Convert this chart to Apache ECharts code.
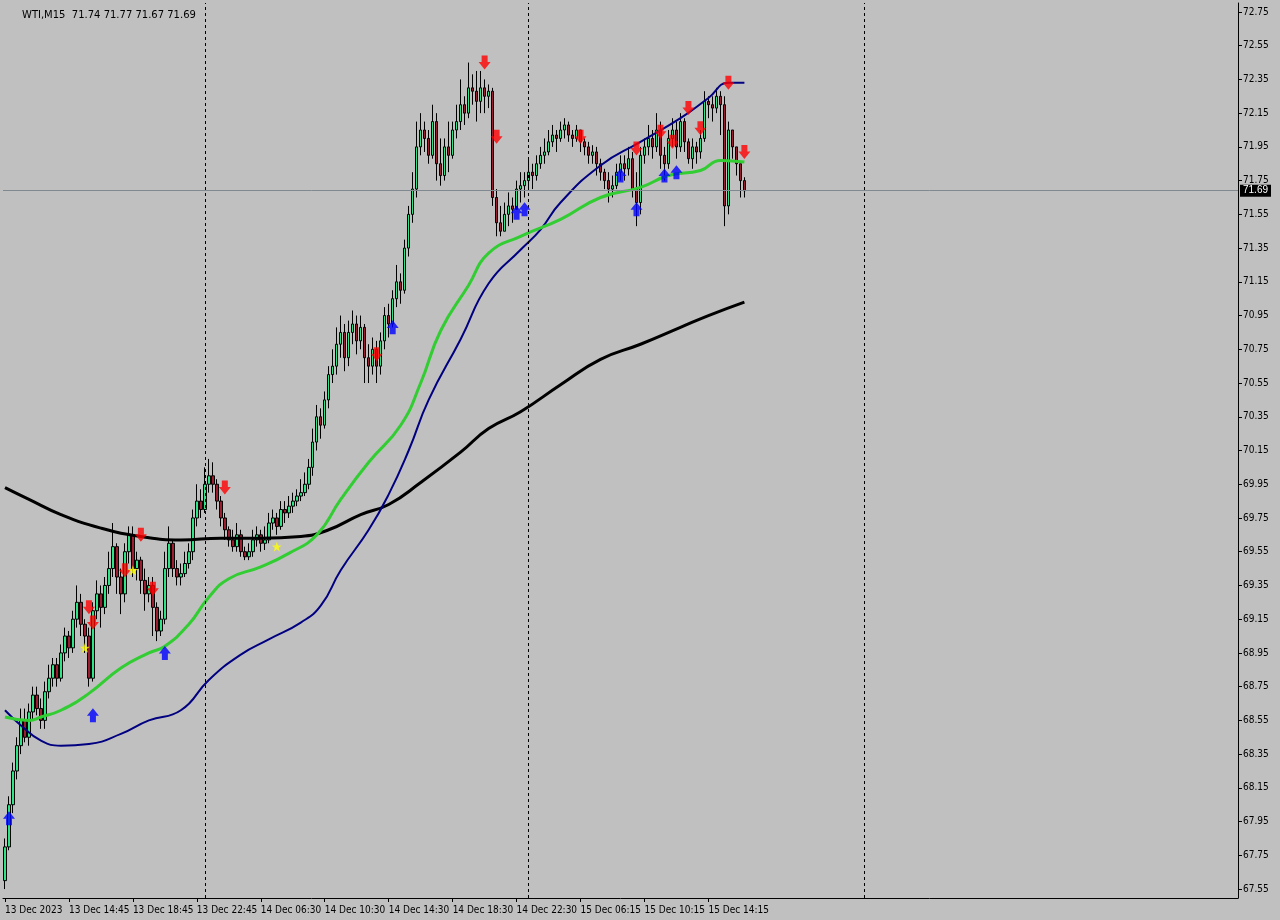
<!DOCTYPE html>
<html>
<head>
<meta charset="utf-8">
<script src="https://cdn.jsdelivr.net/npm/echarts@6/dist/echarts.min.js"></script>
<style>html,body{margin:0;padding:0;background:#c0c0c0}#main{width:1280px;height:920px}</style>
</head>
<body>
<div id="main"></div>
<script>
// WTI M15 candles (open = previous close)
var firstOpen = 67.60;
var closes = [
67.80,68.05,68.25,68.40,68.55,68.45,68.60,68.70,68.62,68.55,
68.72,68.80,68.88,68.80,68.95,69.05,68.98,69.15,69.25,69.12,
69.05,68.80,69.20,69.30,69.22,69.35,69.45,69.58,69.40,69.30,
69.55,69.65,69.45,69.50,69.38,69.30,69.35,69.22,69.08,69.15,
69.45,69.60,69.45,69.40,69.42,69.48,69.55,69.75,69.85,69.80,
69.95,70.00,69.95,69.85,69.75,69.68,69.62,69.58,69.65,69.55,
69.52,69.55,69.62,69.65,69.60,69.62,69.72,69.75,69.70,69.80,
69.78,69.82,69.85,69.88,69.90,69.95,70.05,70.20,70.35,70.30,
70.45,70.60,70.65,70.78,70.85,70.70,70.85,70.90,70.80,70.88,
70.70,70.65,70.75,70.65,70.80,70.95,70.90,71.05,71.15,71.10,
71.35,71.55,71.70,71.95,72.05,72.00,71.90,72.10,71.85,71.78,
71.95,71.90,72.05,72.10,72.20,72.15,72.30,72.28,72.22,72.30,
72.25,72.28,71.65,71.50,71.45,71.55,71.60,71.58,71.70,71.72,
71.75,71.80,71.78,71.85,71.90,71.92,71.98,72.02,72.00,72.05,
72.08,72.02,72.00,72.05,71.98,71.95,71.90,71.92,71.85,71.80,
71.75,71.70,71.72,71.80,71.85,71.82,71.88,71.70,71.62,71.90,
71.95,72.00,71.95,72.05,71.90,71.85,72.00,72.05,71.95,72.10,
71.98,71.88,71.95,71.92,72.00,72.22,72.20,72.18,72.25,72.20,
71.60,72.05,71.95,71.85,71.75,71.69
];
var lows = [
67.55,67.78,68.00,68.20,68.35,68.42,68.40,68.55,68.58,68.50,
68.50,68.68,68.75,68.75,68.78,68.90,68.92,68.95,69.10,69.05,
68.95,68.75,68.78,69.15,69.10,69.18,69.30,69.40,69.30,69.18,
69.25,69.48,69.40,69.38,69.30,69.20,69.25,69.05,69.02,69.05,
69.12,69.40,69.40,69.35,69.35,69.40,69.45,69.50,69.70,69.75,
69.78,69.90,69.90,69.80,69.70,69.62,69.58,69.55,69.55,69.52,
69.50,69.50,69.52,69.58,69.55,69.56,69.60,69.68,69.65,69.68,
69.72,69.75,69.78,69.82,69.85,69.88,69.92,70.00,70.15,70.22,
70.28,70.40,70.55,70.60,70.70,70.62,70.65,70.78,70.72,70.75,
70.55,70.55,70.60,70.55,70.60,70.75,70.82,70.88,71.00,71.02,
71.08,71.30,71.50,71.65,71.90,71.92,71.85,71.88,71.75,71.72,
71.75,71.80,71.88,72.00,72.05,72.08,72.12,72.20,72.10,72.15,
72.15,72.18,71.60,71.42,71.42,71.45,71.48,71.50,71.60,71.62,
71.65,71.70,71.70,71.75,71.82,71.85,71.90,71.95,71.92,71.98,
72.00,71.98,71.95,71.98,71.92,71.90,71.85,71.85,71.78,71.75,
71.70,71.62,71.65,71.70,71.75,71.75,71.78,71.65,71.48,71.55,
71.85,71.90,71.88,71.92,71.82,71.75,71.82,71.95,71.88,71.92,
71.92,71.85,71.82,71.85,71.88,71.98,72.12,72.10,72.15,72.02,
71.48,71.55,71.88,71.78,71.65,71.65
];
var highs = [
67.85,68.10,68.30,68.45,68.62,68.62,68.65,68.75,68.75,68.68,
68.78,68.88,68.92,68.92,69.00,69.10,69.08,69.20,69.35,69.30,
69.15,69.10,69.25,69.38,69.35,69.40,69.55,69.72,69.60,69.45,
69.60,69.70,69.70,69.55,69.52,69.45,69.40,69.40,69.25,69.20,
69.55,69.70,69.62,69.50,69.48,69.55,69.60,69.80,69.95,69.92,
70.05,70.10,70.08,69.98,69.88,69.78,69.70,69.68,69.72,69.68,
69.58,69.60,69.68,69.70,69.68,69.70,69.78,69.80,69.78,69.85,
69.85,69.88,69.90,69.92,69.98,70.02,70.10,70.28,70.42,70.40,
70.50,70.65,70.75,70.88,70.95,70.90,70.92,70.98,70.95,70.95,
70.90,70.78,70.82,70.80,70.85,71.00,71.02,71.10,71.25,71.20,
71.40,71.60,71.80,72.10,72.15,72.10,72.05,72.20,72.15,72.00,
72.00,72.10,72.10,72.20,72.35,72.25,72.45,72.38,72.40,72.40,
72.35,72.32,72.30,71.70,71.60,71.62,71.68,71.65,71.75,71.80,
71.80,71.88,71.85,71.90,71.95,72.00,72.05,72.08,72.05,72.10,
72.12,72.10,72.05,72.08,72.05,72.00,71.98,71.96,71.95,71.88,
71.82,71.80,71.78,71.85,71.90,71.90,71.95,71.92,71.80,71.95,
72.00,72.08,72.05,72.15,72.10,71.95,72.05,72.12,72.10,72.15,
72.12,72.00,72.00,71.98,72.05,72.28,72.25,72.25,72.30,72.28,
72.25,72.10,72.05,71.95,71.85,71.77
];

// moving averages read at sample bars: [bar, price]
var maGreen = [[0,68.57],[6,68.55],[9,68.57],[14,68.61],[21,68.71],[29,68.86],[36,68.95],[40,68.99],[46,69.12],[51,69.28],[56,69.39],[64,69.46],[71,69.54],[78,69.65],[84,69.86],[91,70.08],[99,70.30],[104,70.55],[109,70.86],[116,71.13],[121,71.32],[129,71.42],[139,71.52],[149,71.65],[159,71.71],[166,71.78],[174,71.81],[179,71.87],[185,71.86]];
var maNavy = [[0,68.61],[4,68.52],[9,68.43],[14,68.40],[21,68.41],[29,68.47],[36,68.55],[44,68.61],[51,68.79],[59,68.94],[66,69.03],[74,69.13],[79,69.23],[84,69.44],[91,69.68],[96,69.89],[101,70.15],[106,70.45],[114,70.81],[121,71.14],[129,71.34],[134,71.46],[139,71.62],[149,71.84],[159,71.98],[169,72.12],[176,72.24],[181,72.33],[185,72.33]];
var maBlack = [[0,69.93],[6,69.86],[14,69.77],[24,69.69],[34,69.64],[44,69.62],[54,69.63],[64,69.63],[74,69.64],[81,69.68],[89,69.77],[96,69.83],[104,69.96],[114,70.14],[121,70.28],[129,70.38],[139,70.54],[149,70.69],[159,70.78],[169,70.88],[176,70.95],[185,71.03]];

// signal arrows [bar, price]
var sellArrows = [[21,69.22],[22,69.13],[30,69.44],[34,69.65],[37,69.33],[55,69.93],[93,70.72],[120,72.45],[123,72.01],[144,72.01],[158,71.94],[164,72.04],[167,71.98],[171,72.18],[174,72.06],[181,72.33],[185,71.92]];
var buyArrows = [[1,67.97],[22,68.58],[40,68.95],[97,70.88],[128,71.56],[130,71.58],[154,71.78],[158,71.58],[165,71.78],[168,71.80]];
var stars = [[20,68.98],[32,69.44],[68,69.58]];

var timeLabels = ['13 Dec 2023','13 Dec 14:45','13 Dec 18:45','13 Dec 22:45','14 Dec 06:30','14 Dec 10:30','14 Dec 14:30','14 Dec 18:30','14 Dec 22:30','15 Dec 06:15','15 Dec 10:15','15 Dec 14:15'];
var priceTicks = [67.55,67.75,67.95,68.15,68.35,68.55,68.75,68.95,69.15,69.35,69.55,69.75,69.95,70.15,70.35,70.55,70.75,70.95,71.15,71.35,71.55,71.75,71.95,72.15,72.35,72.55,72.75];
var totalBars = 309;
var daySeps = [49.5, 130.5, 214.5];
var lastPrice = 71.69;

var cats = [];
for (var i = 0; i < totalBars; i++) cats.push(i);
var ohlc = closes.map(function (c, i) {
  var o = i === 0 ? firstOpen : closes[i - 1];
  return [o, c, lows[i], highs[i]];
});

var arrowDown = 'path://M3,0 L9,0 L9,6 L12,6 L6,13 L0,6 L3,6 Z';
var arrowUp = 'path://M6,0 L12,7 L9,7 L9,13 L3,13 L3,7 L0,7 Z';

var chartDom = document.getElementById('main');
var myChart = echarts.init(chartDom);
var option = {
  backgroundColor: '#c0c0c0',
  animation: false,
  title: {
    text: 'WTI,M15  71.74 71.77 71.67 71.69',
    left: 17, top: 5,
    textStyle: { fontSize: 10, fontWeight: 'normal', color: '#000', fontFamily: 'DejaVu Sans' }
  },
  grid: { left: 3, right: 42, top: 3, bottom: 22 },
  xAxis: {
    type: 'category', data: cats, boundaryGap: true,
    axisLine: { lineStyle: { color: '#000' } },
    axisTick: { show: true, length: 4, alignWithLabel: true, lineStyle: { color: '#000' },
      interval: function (idx) { return idx % 16 === 0 && idx / 16 < timeLabels.length; } },
    axisLabel: {
      interval: 0, color: '#000', fontSize: 10, fontFamily: 'DejaVu Sans Condensed', align: 'left', margin: 7,
      formatter: function (v) { v = +v; return (v % 16 === 0 && v / 16 < timeLabels.length) ? timeLabels[v / 16] : ''; }
    },
    splitLine: { show: false }
  },
  yAxis: {
    type: 'value', position: 'right', min: 67.497, max: 72.803,
    axisLine: { show: true, lineStyle: { color: '#000' } },
    axisTick: { show: true, customValues: priceTicks, length: 4, lineStyle: { color: '#000' } },
    axisLabel: { customValues: priceTicks, color: '#000', fontSize: 10, fontFamily: 'DejaVu Sans Condensed', margin: 5,
      formatter: function (v) { return v.toFixed(2); } },
    splitLine: { show: false }
  },
  series: [
    {
      type: 'candlestick', data: ohlc, barWidth: 3,
      itemStyle: { color: '#2ee586', color0: '#9c1d30', borderColor: '#000', borderColor0: '#000', borderWidth: 1 },
      markLine: {
        silent: true, symbol: 'none',
        data: [
          { yAxis: lastPrice, lineStyle: { color: '#808890', type: 'solid', width: 1 },
            label: { show: true, position: 'end', formatter: '71.69', color: '#fff', backgroundColor: '#000', padding: [1, 3], fontSize: 10, distance: 2 } }
        ].concat(daySeps.map(function (d) {
          return { xAxis: d, lineStyle: { color: '#000', type: [3, 3], width: 1 }, label: { show: false } };
        }))
      }
    },
    { type: 'line', data: maBlack, smooth: true, showSymbol: false, lineStyle: { color: '#000', width: 3 }, z: 3 },
    { type: 'line', data: maNavy, smooth: true, showSymbol: false, lineStyle: { color: '#000080', width: 2 }, z: 3 },
    { type: 'line', data: maGreen, smooth: true, showSymbol: false, lineStyle: { color: '#32cd32', width: 3 }, z: 3 },
    { type: 'scatter', data: sellArrows, symbol: arrowDown, symbolSize: [12, 14], itemStyle: { color: '#ff0000' }, z: 5 },
    { type: 'scatter', data: buyArrows, symbol: arrowUp, symbolSize: [12, 14], itemStyle: { color: '#0000ff' }, z: 5 },
    { type: 'scatter', data: stars, symbol: 'path://M5,0 L6.2,3.8 L10,3.8 L7,6.2 L8.1,10 L5,7.7 L1.9,10 L3,6.2 L0,3.8 L3.8,3.8 Z', symbolSize: 10, itemStyle: { color: '#ffff00' }, z: 5 }
  ]
};
myChart.setOption(option);
</script>
</body>
</html>
